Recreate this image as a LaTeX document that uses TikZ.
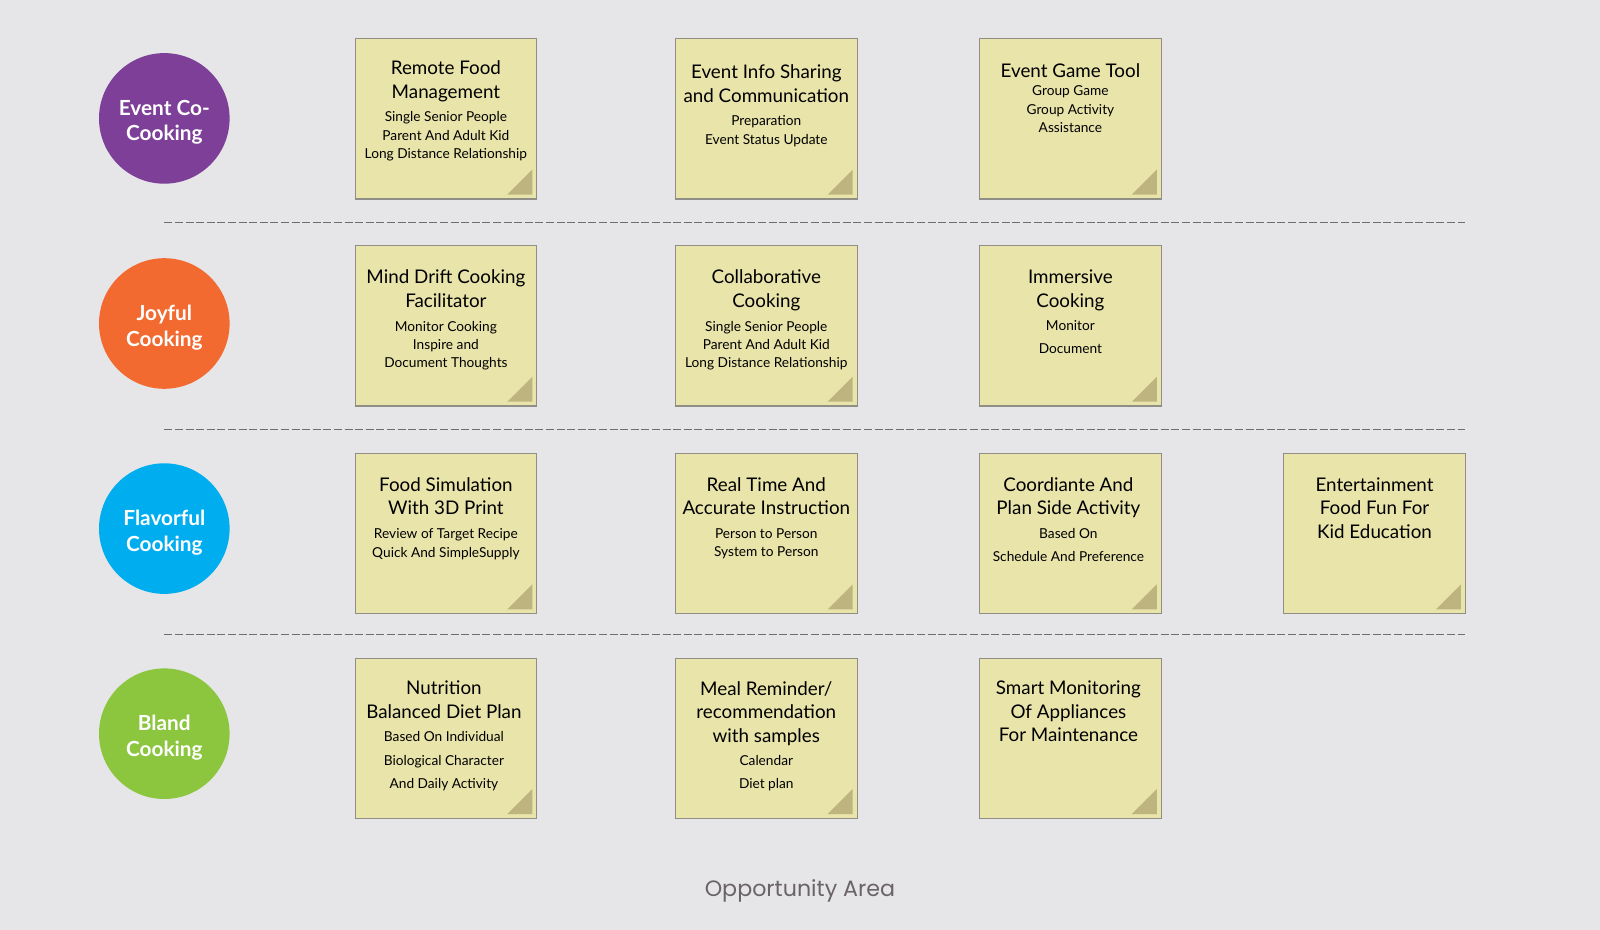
\documentclass[tikz,border=0pt]{standalone}
\usepackage{fontspec}
\setmainfont{Lato}
\newfontfamily\areafont{Poppins}
\usetikzlibrary{positioning,calc}
\definecolor{mybg}{HTML}{E6E6E8}
\definecolor{myfill}{HTML}{E9E4AA}
\definecolor{myedge}{HTML}{8F8F88}
\definecolor{mycorner}{HTML}{BDB480}
\definecolor{mydash}{HTML}{6E6E6E}
\definecolor{mypurple}{HTML}{7D3F98}
\definecolor{myorange}{HTML}{F26A30}
\definecolor{myblue}{HTML}{00AEEF}
\definecolor{mygreen}{HTML}{8CC63F}
\definecolor{mygray}{HTML}{6B6466}

\begin{document}
\begin{tikzpicture}[x=0.5pt,y=-0.5pt]

\tikzstyle{note} = [draw=myedge, fill=myfill, line width=0.6pt, inner sep=0,
    minimum width=90.8pt, minimum height=80.1pt]
\tikzstyle{corner} = [fill=mycorner]
\tikzstyle{title} = [anchor=north, inner sep=0, align=center,
    font=\fontsize{9.4}{11.75}\selectfont,
    execute at begin node=\strut, execute at end node=\strut]
\tikzstyle{sub} = [anchor=north, inner sep=0, align=center,
    font=\fontsize{6.85}{9.2}\selectfont,
    execute at begin node=\strut, execute at end node=\strut]
\tikzstyle{subwide} = [sub, font=\fontsize{6.85}{11.75}\selectfont]
\tikzstyle{topic} = [circle, minimum size=65.3pt, inner sep=0, text=white,
    align=center, font=\bfseries\fontsize{10.4}{12.75}\selectfont]
\tikzstyle{divider} = [draw=mydash, line width=0.65pt, dash pattern=on 4pt off 1.3pt]

% background
\fill[mybg] (0,0) rectangle (1600,930);
\useasboundingbox (0,0) rectangle (1600,930);

% =========================
% topics
% =========================
\node[topic, fill=mypurple] (event) at (164.3,118.4) {\raisebox{-2pt}[\height][\depth]{\parbox{60pt}{\centering Event Co-\\Cooking}}};
\node[topic, fill=myorange] (joyful) at (164.3,323.5) {\raisebox{-2pt}[\height][\depth]{\parbox{60pt}{\centering Joyful\\Cooking}}};
\node[topic, fill=myblue] (flavor) at (164.3,528.6) {\raisebox{-2pt}[\height][\depth]{\parbox{60pt}{\centering Flavorful\\Cooking}}};
\node[topic, fill=mygreen] (bland) at (164.3,733.7) {\raisebox{-2pt}[\height][\depth]{\parbox{60pt}{\centering Bland\\Cooking}}};

% dividers
\draw[divider] (164.3,222.2) -- (1465.3,222.2);
\draw[divider] (164.3,429.6) -- (1465.3,429.6);
\draw[divider] (164.3,634.7) -- (1465.3,634.7);

% =========================
% first row
% =========================
\node[note] (n11) at (445.9,118.9) {};
\node[title] (t11) at ($(n11.north)+(0,22.1)$) {Remote Food\\Management};
\node[sub, below=3pt of t11] (s11) {Single Senior People\\Parent And Adult Kid\\Long Distance Relationship};

\node[note] (n12) at (766.3,118.9) {};
\node[title] (t12) at ($(n12.north)+(0,26.1)$) {Event Info Sharing\\and Communication};
\node[sub, below=3pt of t12] (s12) {Preparation\\Event Status Update};

\node[note] (n13) at (1070.4,118.9) {};
\node[title] (t13) at ($(n13.north)+(0,22.1)$) {Event Game Tool};
\node[sub, below=0.5pt of t13] (s13) {Group Game\\Group Activity\\Assistance};

% =========================
% second row
% =========================
\node[note] (n21) at (445.9,326) {};
\node[title] (t21) at ($(n21.north)+(0,24.1)$) {Mind Drift Cooking\\Facilitator};
\node[sub, below=3pt of t21] (s21) {Monitor Cooking\\Inspire and\\Document Thoughts};

\node[note] (n22) at (766.3,326) {};
\node[title] (t22) at ($(n22.north)+(0,24.1)$) {Collaborative\\Cooking};
\node[sub, below=3pt of t22] (s22) {Single Senior People\\Parent And Adult Kid\\Long Distance Relationship};

\node[note] (n23) at (1070.4,326) {};
\node[title] (t23) at ($(n23.north)+(0,24.1)$) {Immersive\\Cooking};
\node[subwide, below=2.75pt of t23] (s23) {Monitor\\Document};

% =========================
% third row
% =========================
\node[note] (n31) at (445.9,533.7) {};
\node[title] (t31) at ($(n31.north)+(0,24.1)$) {Food Simulation\\With 3D Print};
\node[sub, below=3pt of t31] (s31) {Review of Target Recipe\\Quick And SimpleSupply};

\node[note] (n32) at (766.3,533.7) {};
\node[title] (t32) at ($(n32.north)+(0,24.1)$) {Real Time And\\Accurate Instruction};
\node[sub, below=3pt of t32] (s32) {Person to Person\\System to Person};

\node[note] (n33) at (1070.4,533.7) {};
\node[title] (t33) at ($(n33.north)+(-2,24.1)$) {Coordiante And\\Plan Side Activity};
\node[subwide, below=2.75pt of t33] (s33) {Based On\\Schedule And Preference};

\node[note] (n34) at (1374.5,533.7) {};
\node[title] (t34) at ($(n34.north)+(0,24.1)$) {Entertainment\\Food Fun For\\Kid Education};

% =========================
% fourth row
% =========================
\node[note] (n41) at (445.9,738.3) {};
\node[title] (t41) at ($(n41.north)+(-2,23.2)$) {Nutrition\\Balanced Diet Plan};
\node[subwide, below=2.75pt of t41] (s41) {Based On Individual\\Biological Character\\And Daily Activity};

\node[note] (n42) at (766.3,738.3) {};
\node[title] (t42) at ($(n42.north)+(0,23.2)$) {Meal Reminder/\\recommendation\\with samples};
\node[subwide, below=2.75pt of t42] (s42) {Calendar\\Diet plan};

\node[note] (n43) at (1070.4,738.3) {};
\node[title] (t43) at ($(n43.north)+(-2,23.2)$) {Smart Monitoring\\Of Appliances\\For Maintenance};

% folded corners
\foreach \n in {n11,n12,n13,n21,n22,n23,n31,n32,n33,n34,n41,n42,n43}
    \fill[corner] ($(\n.south east)+(-5,-5)$) -- ++(-25,0) -- ++(25,-25) -- cycle;

\node[text=mygray, font=\areafont\fontsize{11.1}{14}\selectfont] (area) at (800,890.8) {Opportunity Area};

\end{tikzpicture}
\end{document}
